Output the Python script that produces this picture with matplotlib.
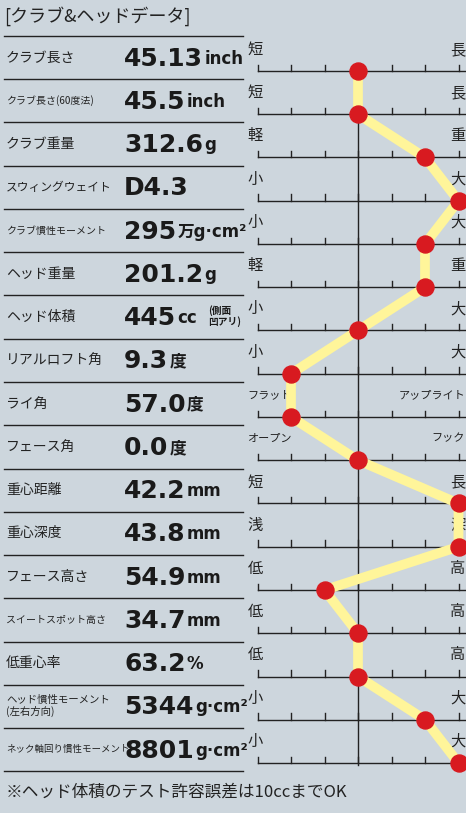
import matplotlib
matplotlib.use("Agg")
import matplotlib.pyplot as plt

labels = ["クラブ長さ", "クラブ長さ(60度法)", "クラブ重量", "スウィングウェイト", "クラブ慣性モーメント",
          "ヘッド重量", "ヘッド体積", "リアルロフト角", "ライ角", "フェース角", "重心距離", "重心深度",
          "フェース高さ", "スイートスポット高さ", "低重心率", "ヘッド慣性モーメント\n(左右方向)", "ネック軸回り慣性モーメント"]
nums = ["45.13", "45.5", "312.6", "D4.3", "295", "201.2", "445", "9.3", "57.0", "0.0", "42.2", "43.8",
        "54.9", "34.7", "63.2", "5344", "8801"]
units = ["inch", "inch", "g", "", "万g·cm²", "g", "cc", "度", "度", "度", "mm", "mm", "mm", "mm", "%", "g·cm²", "g·cm²"]
left_lbl = ["短", "短", "軽", "小", "小", "軽", "小", "小", "フラット", "オープン", "短", "浅", "低", "低", "低", "小", "小"]
right_lbl = ["長", "長", "重", "大", "大", "重", "大", "大", "アップライト", "フック", "長", "深", "高", "高", "高", "大", "大"]
scores = [0, 0, 2, 3, 2, 2, 0, -2, -2, 0, 3, 3, -1, 0, 0, 2, 3]

JP = ["Noto Sans CJK JP", "DejaVu Sans"]
NUM = ["DejaVu Sans", "Noto Sans CJK JP"]
BG = "#cdd6dd"
W, H = 466, 813
fig = plt.figure(figsize=(W/100, H/100), dpi=100, facecolor=BG)
base = fig.add_axes([0, 0, 1, 1]); base.set_xlim(0, W); base.set_ylim(H, 0); base.axis("off")

base.text(4, 16, "[クラブ&ヘッドデータ]", family=JP, fontsize=13, va="center", color="#222")
row0, rh = 36, 43.25
n = len(labels)
for i in range(n + 1):
    base.plot([4, 243], [row0 + i*rh]*2, color="#222", lw=1)
for i in range(n):
    yc = row0 + (i + 0.5)*rh
    lab = labels[i]
    L = len(lab)
    fs = 10 if L <= 7 else (8.5 if L <= 9 else 7.2)
    if "\n" in lab:
        fs = 7.5
    if L > 12 and "\n" not in lab:
        fs = 6.8
    base.text(6, yc, lab, family=JP, fontsize=fs, va="center", color="#222", linespacing=1.1)
    t = base.text(124, yc + 1, nums[i], family=NUM, fontsize=18, weight="bold", va="center", color="#1a1a1a")
    if units[i]:
        base.annotate(units[i], xy=(1, 0.12), xycoords=t, xytext=(1, 0), textcoords="offset points",
                      family=NUM, fontsize=12, weight="bold", va="bottom", ha="left", color="#1a1a1a")
    if i == 6:
        base.text(208, yc - 1, "(側面\n凹アリ)", family=JP, fontsize=7, weight="bold", va="center", color="#1a1a1a", linespacing=1.0)

ax = fig.add_axes([243/W, 1 - 773/H, (W-243)/W, (773-36)/H])
ax.set_xlim((243-358)/33.5, (466-358)/33.5)
ax.set_ylim(16 + (773-763)/43.25, -(71-36)/43.25)
ax.axis("off")
for i in range(n):
    ax.plot([-3, 3.3], [i, i], color="#222", lw=1)
    for k in range(-3, 4):
        ax.plot([k, k], [i, i - 0.15], color="#222", lw=1)
    fsl = 11 if len(left_lbl[i]) == 1 else 8
    fsr = 11 if len(right_lbl[i]) == 1 else 8
    ax.text(-3.3, i - 0.5, left_lbl[i], family=JP, fontsize=fsl, va="center", ha="left", color="#222")
    ax.text(3.2, i - 0.5, right_lbl[i], family=JP, fontsize=fsr, va="center", ha="right", color="#222")
ax.plot([0, 0], [0, n - 1 + 0.05], color="#222", lw=1)
ys = list(range(n))
ax.plot(scores, ys, color="#fff59a", lw=7, solid_capstyle="round", solid_joinstyle="round", zorder=3)
ax.scatter(scores, ys, s=150, color="#d81a20", zorder=4, clip_on=False)

base.text(6, 792, "※ヘッド体積のテスト許容誤差は10ccまでOK", family=JP, fontsize=12, va="center", color="#222")
fig.savefig("out.png", dpi=100, facecolor=BG)
